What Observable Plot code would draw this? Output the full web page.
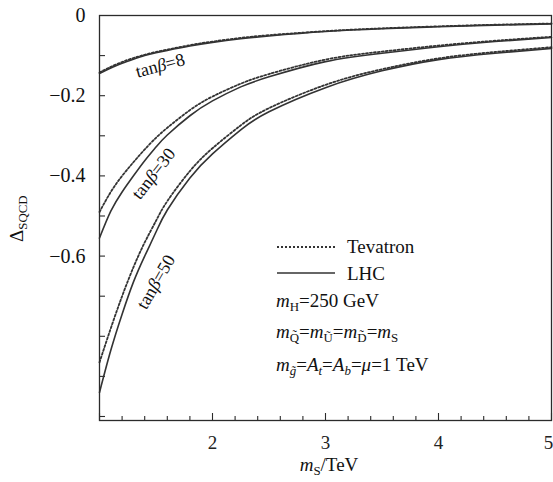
<!DOCTYPE html>
<html><head><meta charset="utf-8">
<script src="https://cdn.jsdelivr.net/npm/d3@7"></script>
<script src="https://cdn.jsdelivr.net/npm/@observablehq/plot@0.6"></script>
<style>body{margin:0;background:#fff} svg{display:block}</style>
</head><body><div id="chart"></div>
<script>
// ---- data ----
const mS    = [1, 1.1, 1.2, 1.3, 1.4, 1.5, 1.6, 1.8, 2, 2.25, 2.5, 3, 3.5, 4, 4.5, 5];
const lhc8  = [-0.145,-0.131,-0.119,-0.109,-0.100,-0.093,-0.087,-0.076,-0.067,-0.058,-0.051,-0.040,-0.033,-0.028,-0.024,-0.021];
const tev8  = [-0.142,-0.128,-0.116,-0.106,-0.098,-0.091,-0.085,-0.074,-0.065,-0.056,-0.049,-0.039,-0.032,-0.027,-0.023,-0.020];
const lhc30 = [-0.555,-0.488,-0.440,-0.400,-0.362,-0.328,-0.298,-0.250,-0.213,-0.178,-0.153,-0.115,-0.094,-0.078,-0.065,-0.055];
const tev30 = [-0.490,-0.440,-0.400,-0.366,-0.334,-0.305,-0.280,-0.236,-0.202,-0.170,-0.146,-0.110,-0.090,-0.075,-0.063,-0.053];
const lhc50 = [-0.940,-0.835,-0.745,-0.665,-0.600,-0.540,-0.485,-0.405,-0.345,-0.285,-0.240,-0.180,-0.138,-0.110,-0.094,-0.082];
const tev50 = [-0.865,-0.780,-0.700,-0.628,-0.566,-0.512,-0.463,-0.388,-0.331,-0.274,-0.231,-0.173,-0.134,-0.107,-0.091,-0.079];
const tanBetas = [8, 30, 50];
const xMajorTicks = [1, 2, 3, 4, 5];
const xMinorTicks = [1.2,1.4,1.6,1.8,2.2,2.4,2.6,2.8,3.2,3.4,3.6,3.8,4.2,4.4,4.6,4.8];
const xTickLabels = [2, 3, 4, 5];
const yTicks = [-0.1,-0.2,-0.3,-0.4,-0.5,-0.6,-0.7,-0.8,-0.9,-1.0];
const yTickLabels = [0, -0.2, -0.4, -0.6];

const seriesDefs = [
  {tb: 8,  collider: "LHC", vals: lhc8},  {tb: 8,  collider: "Tevatron", vals: tev8},
  {tb: 30, collider: "LHC", vals: lhc30}, {tb: 30, collider: "Tevatron", vals: tev30},
  {tb: 50, collider: "LHC", vals: lhc50}, {tb: 50, collider: "Tevatron", vals: tev50}
];
const rows = seriesDefs.flatMap(s => s.vals.map((v, i) => ({m: mS[i], v, tb: s.tb, collider: s.collider})));

// ---- chart ----
const W = 553, H = 482, ML = 99, MR = 2, MT = 15, MB = 62;
const innerW = W - ML - MR, innerH = H - MT - MB;
const ink = "#2b2b2b";
const SERIF = "Liberation Serif, Times New Roman, DejaVu Serif, serif";
const fmt = d => d === 0 ? "0" : "\u2212" + Math.abs(d).toFixed(1);
const lastX = xTickLabels[xTickLabels.length - 1];

const plot = Plot.plot({
  width: W, height: H, marginLeft: ML, marginRight: MR, marginTop: MT, marginBottom: MB,
  x: {domain: [1, 5], axis: null},
  y: {domain: [-1.01, 0], axis: null},
  style: {fontFamily: SERIF, fontSize: "19px", color: "#111", background: "#fff"},
  marks: [
    Plot.tickX(xMinorTicks, {x: d => d, insetTop: innerH - 4, stroke: ink, strokeWidth: 1.1}),
    Plot.tickX(xMajorTicks, {x: d => d, insetTop: innerH - 7, stroke: ink, strokeWidth: 1.1}),
    Plot.tickY(yTicks, {y: d => d, insetRight: innerW - 6, stroke: ink, strokeWidth: 1.1}),
    Plot.line(rows.filter(d => d.collider === "Tevatron"), {x: "m", y: "v", z: "tb", curve: "natural", stroke: "#333", strokeWidth: 1.8, strokeDasharray: "2,2"}),
    Plot.line(rows.filter(d => d.collider === "LHC"), {x: "m", y: "v", z: "tb", curve: "natural", stroke: "#333", strokeWidth: 1.6}),
    Plot.frame({stroke: ink, strokeWidth: 1.3}),
    Plot.text(yTickLabels, {x: d => 1, y: d => d, dx: -14, text: fmt, textAnchor: "end", fontSize: 20, fontFamily: SERIF, fill: "#111"}),
    Plot.text(xTickLabels.filter(d => d !== lastX), {x: d => d, y: d => -1.01, dy: 22, text: d => String(d), fontSize: 19, fontFamily: SERIF, fill: "#222"}),
    Plot.text([lastX], {x: d => d, y: d => -1.01, dy: 22, dx: -3, text: d => String(d), fontSize: 19, fontFamily: SERIF, fill: "#222"})
  ]
});
document.getElementById("chart").appendChild(plot);

const svg = d3.select(plot);
const sx = plot.scale("x").apply, sy = plot.scale("y").apply;

// rich text helper
function rich(g, parts, size, anchor) {
  const t = g.append("text").attr("fill", "#111")
    .attr("font-family", SERIF).style("font-family", SERIF)
    .style("font-size", size + "px").attr("text-anchor", anchor || "start");
  let shift = 0;
  parts.forEach(p => {
    const ts = t.append("tspan").text(p.t);
    if (p.i) ts.style("font-style", "italic");
    const want = p.sub ? 4 : 0;
    if (want !== shift) { ts.attr("dy", want - shift); shift = want; }
    if (p.sub) ts.style("font-size", (size * 0.68) + "px");
  });
  return t;
}

// curve labels
const curveLabels = [
  {tb: tanBetas[0], x: 1.54, y: -0.125, rot: -15},
  {tb: tanBetas[1], x: 1.48, y: -0.395, rot: -52},
  {tb: tanBetas[2], x: 1.50, y: -0.665, rot: -60}
];
curveLabels.forEach(l => {
  const g = svg.append("g").attr("transform", `translate(${sx(l.x)},${sy(l.y)}) rotate(${l.rot})`);
  rich(g, [{t: "tan"}, {t: "\u03B2", i: true}, {t: "=" + l.tb}], 18, "middle").attr("dy", "0.35em");
});

// legend
const lg = svg.append("g");
lg.append("line").attr("x1", 277).attr("x2", 335).attr("y1", 247).attr("y2", 247)
  .attr("stroke", "#333").attr("stroke-width", 1.8).attr("stroke-dasharray", "2,2");
lg.append("line").attr("x1", 277).attr("x2", 335).attr("y1", 273).attr("y2", 273)
  .attr("stroke", "#333").attr("stroke-width", 1.6);
rich(lg, [{t: "Tevatron"}], 19).attr("x", 347).attr("y", 253);
rich(lg, [{t: "LHC"}], 19).attr("x", 347).attr("y", 280);
rich(lg, [{t: "m", i: true}, {t: "H", sub: true}, {t: "=250 GeV"}], 19).attr("x", 276).attr("y", 307);
rich(lg, [{t: "m", i: true}, {t: "Q\u0303", sub: true}, {t: "="}, {t: "m", i: true}, {t: "U\u0303", sub: true}, {t: "="},
          {t: "m", i: true}, {t: "D\u0303", sub: true}, {t: "="}, {t: "m", i: true}, {t: "S", sub: true}], 19).attr("x", 276).attr("y", 338);
rich(lg, [{t: "m", i: true}, {t: "g\u0303", sub: true, i: true}, {t: "="}, {t: "A", i: true}, {t: "t", sub: true, i: true}, {t: "="},
          {t: "A", i: true}, {t: "b", sub: true, i: true}, {t: "="}, {t: "\u03BC", i: true}, {t: "=1 TeV"}], 19).attr("x", 276).attr("y", 371);

// axis titles
rich(svg, [{t: "m", i: true}, {t: "S", sub: true}, {t: "/TeV"}], 19, "middle").attr("x", 329).attr("y", 471);
rich(svg.append("g").attr("transform", "translate(23,242) rotate(-90)"), [{t: "\u0394"}, {t: "SQCD", sub: true}], 19, "start");
</script></body></html>
